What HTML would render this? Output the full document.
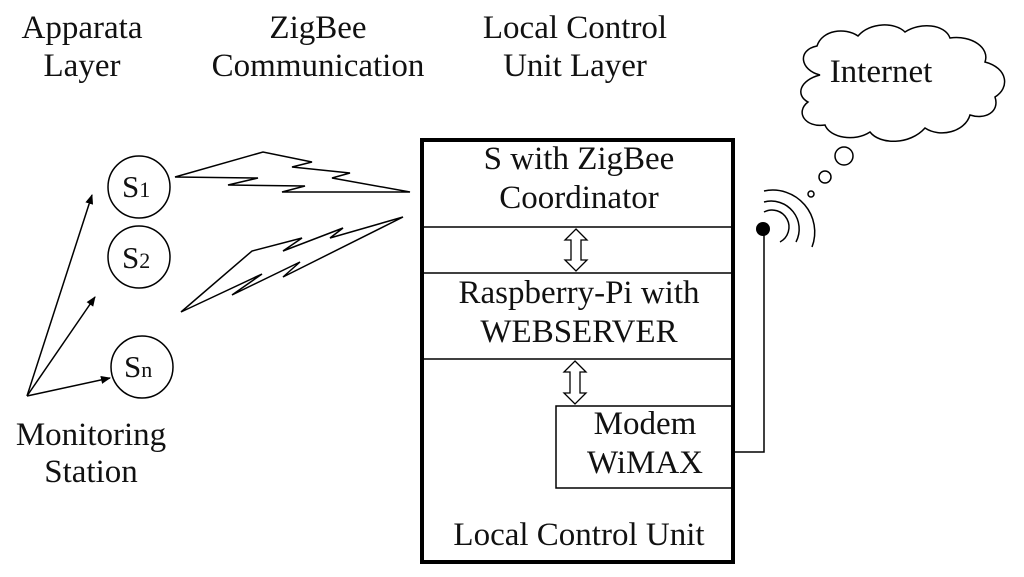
<!DOCTYPE html>
<html><head><meta charset="utf-8"><style>
html,body{margin:0;padding:0;background:#fff;}
svg{display:block;}
text{font-family:"Liberation Serif",serif;font-size:33px;fill:#111;}
</style></head><body>
<svg width="1024" height="577" viewBox="0 0 1024 577" xmlns="http://www.w3.org/2000/svg">
<defs>
<marker id="ah" markerWidth="10" markerHeight="8" refX="9" refY="4" orient="auto" markerUnits="userSpaceOnUse">
<path d="M0,0 L10,4 L0,8 z" fill="#000"/></marker>
</defs>
<g text-anchor="middle">
<text x="82" y="38">Apparata</text><text x="82" y="76">Layer</text>
<text x="318" y="38">ZigBee</text><text x="318" y="76">Communication</text>
<text x="575" y="38">Local Control</text><text x="575" y="76">Unit Layer</text>
<text x="91" y="445">Monitoring</text><text x="91" y="482">Station</text>
</g>
<!-- circles -->
<g fill="none" stroke="#000" stroke-width="1.5">
<circle cx="139" cy="187" r="31"/>
<circle cx="139" cy="257" r="31"/>
<circle cx="142" cy="367" r="31"/>
</g>
<text x="122" y="197" style="font-size:31px">S<tspan font-size="22">1</tspan></text>
<text x="122" y="268" style="font-size:31px">S<tspan font-size="22">2</tspan></text>
<text x="124" y="377" style="font-size:31px">S<tspan font-size="22">n</tspan></text>
<!-- arrows from station -->
<g stroke="#000" stroke-width="1.5" marker-end="url(#ah)">
<line x1="27" y1="396" x2="92" y2="195"/>
<line x1="27" y1="396" x2="95" y2="297"/>
<line x1="27" y1="396" x2="110" y2="378"/>
</g>
<!-- lightning -->
<g fill="none" stroke="#000" stroke-width="1.5" stroke-linejoin="miter">
<polygon points="175,177 263,152 312,162 292,167 350,173 332,178 410,192 282,192 305,186 228,185 258,178"/>
<polygon points="181,312 252,251 302,238 283,251 343,228 330,238 403,217 283,277 300,262 232,295 262,274"/>
</g>
<!-- main box -->
<rect x="422" y="140" width="311" height="422" fill="none" stroke="#000" stroke-width="4"/>
<g stroke="#000" stroke-width="1.5">
<line x1="422" y1="227" x2="733" y2="227"/>
<line x1="422" y1="273" x2="733" y2="273"/>
<line x1="422" y1="359" x2="733" y2="359"/>
</g>
<rect x="556" y="406" width="177" height="82" fill="none" stroke="#000" stroke-width="1.5"/>
<!-- double arrows -->
<g fill="#fff" stroke="#000" stroke-width="1.3">
<path d="M576,229 L587,240 L581,240 L581,260 L587,260 L576,271 L565,260 L571,260 L571,240 L565,240 Z"/>
<path d="M575,361 L586,372 L580,372 L580,393 L586,393 L575,404 L564,393 L570,393 L570,372 L564,372 Z"/>
</g>
<g text-anchor="middle">
<text x="579" y="169">S with ZigBee</text>
<text x="579" y="208">Coordinator</text>
<text x="579" y="303">Raspberry-Pi with</text>
<text x="579" y="342">WEBSERVER</text>
<text x="645" y="434">Modem</text>
<text x="645" y="473">WiMAX</text>
<text x="579" y="545">Local Control Unit</text>
</g>
<!-- antenna -->
<polyline points="733,452 764,452 764,229" fill="none" stroke="#000" stroke-width="1.5"/>
<circle cx="763" cy="229" r="7" fill="#000"/>
<g fill="none" stroke="#000" stroke-width="1.5">
<path d="M764,212 A17,17 0 0 1 780,242"/>
<path d="M764,202 A28,28 0 0 1 796,242"/>
<path d="M764,191 A42,42 0 0 1 812,247"/>
<circle cx="844" cy="156" r="9"/>
<circle cx="825" cy="177" r="6"/>
<circle cx="811" cy="194" r="3"/>
<!-- cloud -->
<path d="M820,75 C800,70 797,50 817,46 C822,30 845,27 858,36 C870,22 895,22 905,32 C920,22 945,24 950,38 C972,35 990,48 985,62 C1008,68 1010,88 995,97 C1000,112 985,120 970,115 C965,132 940,138 925,128 C910,145 880,145 870,132 C855,142 830,138 825,125 C805,128 795,112 808,102 C795,95 800,80 820,75 Z"/>
</g>
<text x="881" y="82" text-anchor="middle">Internet</text>
</svg>
</body></html>
